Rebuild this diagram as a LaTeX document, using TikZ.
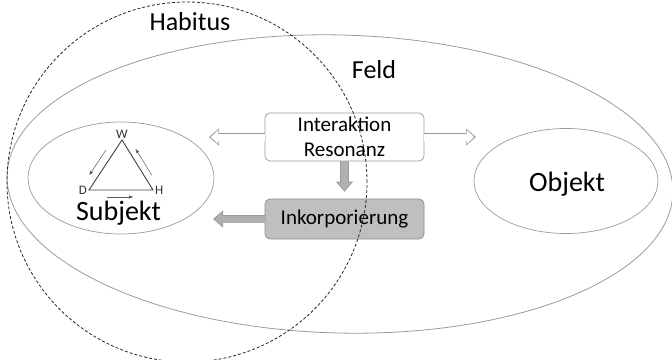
\documentclass[tikz,border=0pt]{standalone}
\usepackage{fontspec}
\setmainfont{Carlito}
\usetikzlibrary{arrows.meta, calc, positioning, shapes.geometric}

\definecolor{rimgray}{HTML}{9A9A9A}
\definecolor{boxgray}{HTML}{BFBFBF}
\definecolor{arrowgray}{HTML}{B0B0B0}

\begin{document}
\begin{tikzpicture}[x=1pt, y=-1pt,
      field/.style = {draw=rimgray, line width=0.8pt},
      habitus/.style = {draw=black!85, line width=0.8pt,
                        dash pattern=on 3pt off 2pt},
      actor/.style = {ellipse, draw=rimgray, line width=0.7pt, inner sep=0pt},
      big label/.style = {font=\fontsize{26}{30}\selectfont},
      actor label/.style = {anchor=base, font=\fontsize{28}{32}\selectfont},
      stepbox/.style = {draw=rimgray, line width=0.7pt, rounded corners=5pt,
                        minimum width=159pt, align=center,
                        font=\fontsize{21}{25}\selectfont},
      corner/.style = {font=\fontsize{13}{15}\selectfont, text=black!80,
                       inner sep=1pt},
      edge/.style = {draw=black!75, line width=0.9pt},
      turn/.style = {draw=black!65, line width=0.5pt,
                     -{Triangle[length=4pt, width=3pt]}},
      rim arrow/.style = {draw=rimgray, line width=8.6pt,
                          -{Triangle[length=10pt, width=16.5pt]}},
      hollow arrow/.style = {draw=white, line width=7pt, shorten >=1.8pt,
                             -{Triangle[length=7.5pt, width=13.5pt]}},
      solid arrow/.style = {hollow arrow, draw=arrowgray},
    ]
    \clip (0,0) rectangle (672,359);
    \useasboundingbox (0,0) rectangle (672,359);

    %% The field and the two actors inside it
    \draw [field, rotate around={-1.5:(340,184)}]
      (340,184) ellipse [x radius=333pt, y radius=149pt];
    \node [big label] (feld) at (374,70) {Feld};

    \node [actor, minimum width=186pt, minimum height=112pt] (subj) at (121,178) {};
    \node [actor, minimum width=184pt, minimum height=105pt] (obj) at (566,181) {};
    \node [actor label] (subjtext) at (118.5,220) {Subjekt};
    \node [actor label] (objtext) at (567,191) {Objekt};

    %% Triangle W - D - H inside the subject
    \coordinate (tw) at (122,140);
    \coordinate (td) at (89,190);
    \coordinate (th) at (153,190);
    \draw [edge] (tw) -- (td) -- (th) -- cycle;
    \node [corner, above=0pt of tw] (W) {W};
    \node [corner, left=1pt of td] (D) {D};
    \node [corner, right=1pt of th] (H) {H};

    \draw [turn] ([xshift=-9.5pt] $(tw)!0.2!(td)$) -- ([xshift=-9.5pt] $(tw)!0.7!(td)$);
    \draw [turn] ([yshift=-7pt] $(td)!0.28!(th)$) -- ([yshift=-7pt] $(td)!0.69!(th)$);
    \draw [turn] ([xshift=8pt] $(tw)!0.7!(th)$) -- ([xshift=8pt] $(tw)!0.18!(th)$);

    %% Interaction and incorporation
    \node [stepbox, fill=white, minimum height=48pt] (inter) at (344.5,137)
      {Interaktion\\Resonanz};
    \node [stepbox, fill=boxgray, draw=black!45, minimum height=40pt] (inko)
      at (344.5,219) {Inkorporierung};

    \coordinate (tosubj) at (209,137);
    \coordinate (toobj) at (476,137);
    \coordinate (back) at (213,219);

    \draw [rim arrow] (inter.west) -- (tosubj);
    \draw [hollow arrow] (inter.west) -- (tosubj);
    \draw [rim arrow] (inter.east) -- (toobj);
    \draw [hollow arrow] (inter.east) -- (toobj);
    \draw [rim arrow, shorten >=7pt] (inter.south) -- (inko.north);
    \draw [solid arrow, shorten >=8.8pt] (inter.south) -- (inko.north);
    \draw [rim arrow] (inko.west) -- (back);
    \draw [solid arrow] (inko.west) -- (back);

    %% The habitus, drawn over everything
    \draw [habitus] (187,182) circle [radius=180pt];
    \node [big label] (habitus) at (190,22) {Habitus};
  \end{tikzpicture}
\end{document}
